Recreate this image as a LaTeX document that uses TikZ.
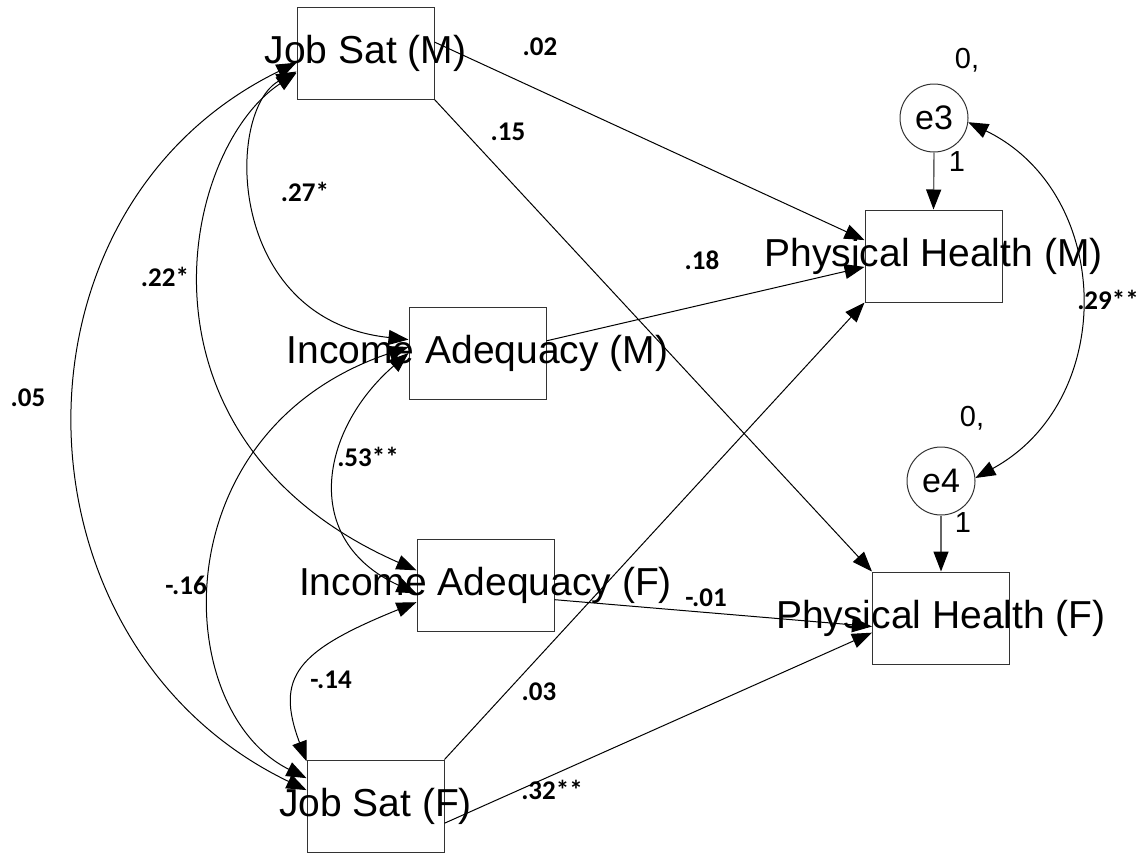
\documentclass[tikz,border=0pt]{standalone}
\usepackage{fontspec}
\setmainfont{Liberation Sans}
\newfontfamily\calib{Carlito}
\usetikzlibrary{arrows.meta}
\begin{document}
\begin{tikzpicture}[x=1pt,y=-1pt,
  box/.style={draw=black!80, line width=1pt, minimum width=137pt, minimum height=92pt, inner sep=0pt},
  err/.style={draw=black!80, line width=1pt, circle, minimum size=68pt, inner sep=0pt, font=\fontsize{34}{37}\selectfont},
  vname/.style={font=\fontsize{39}{42}\selectfont, inner sep=0pt},
  coef/.style={font=\calib\bfseries\fontsize{27}{30}\selectfont, inner sep=0pt},
  smalllab/.style={font=\fontsize{29}{32}\selectfont, inner sep=0pt},
  dirpath/.style={line width=1pt, -{Triangle[length=20pt,width=15pt]}},
  cov/.style={line width=1pt, {Triangle[length=20pt,width=15pt]}-{Triangle[length=20pt,width=15pt]}},
  errpath/.style={line width=1.4pt, draw=black!60, -{Triangle[length=20pt,width=15pt,color=black]}}
]
\useasboundingbox (0,0) rectangle (1148,852);

% boxes
\node[box] (jsm) at (365.5,53) {};
\node[box] (iam) at (477.5,353) {};
\node[box] (iaf) at (485.5,585) {};
\node[box] (jsf) at (375.5,806) {};
\node[box] (phm) at (933.5,256) {};
\node[box] (phf) at (941,618) {};
\node[err] (e3) at (934,118) {e3};
\node[err] (e4) at (941,481) {e4};

% regression paths
\draw[dirpath] (jsm.9) -- (phm.167);
\draw[dirpath] (jsm.south east) -- (phf.north west);
\draw[dirpath] (iam.10) -- (phm.189);
\draw[dirpath] (iaf.-12) -- (phf.187);
\draw[dirpath] (jsf.north east) -- (phm.south west);
\draw[dirpath] (jsf.-14) -- (phf.192);
\draw[errpath] (e3.south) -- (phm.north);
\draw[errpath] (e4.south) -- (phf.north);

% covariances
\draw[cov] (jsm.188) .. controls (-5,210) and (5,645) .. (jsf.167);
\draw[cov] (jsm.196) .. controls (180,150) and (120,440) .. (iaf.168);
\draw[cov] (jsm.195) .. controls (225,110) and (225,320) .. (iam.169);
\draw[cov] (iam.175) .. controls (160,430) and (170,710) .. (jsf.158);
\draw[cov] (iam.180) .. controls (320,430) and (300,540) .. (iaf.187);
\draw[cov] (iaf.194) .. controls (296,651) and (275,677) .. (jsf.147);
\draw[cov] (e3.-7) .. controls (1113.5,193) and (1118,400) .. (e4.5);

% variable names
\node[vname] (jsmT) at (jsm.center) {Job Sat (M)};
\node[vname] (iamT) at (iam.center) {Income Adequacy (M)};
\node[vname] (iafT) at (iaf.center) {Income Adequacy (F)};
\node[vname] (jsfT) at (jsf.center) {Job Sat (F)};
\node[vname] (phmT) at (phm.center) {Physical Health (M)};
\node[vname] (phfT) at (phf.center) {Physical Health (F)};

% error labels
\node[smalllab] (z3) at (967,60) {0,};
\node[smalllab] (z4) at (972,418) {0,};
\node[smalllab] (o3) at (957,162) {1};
\node[smalllab] (o4) at (963,523) {1};

% coefficients
\node[coef] (c02) at (540,47) {.02};
\node[coef] (c15) at (508,132) {.15};
\node[coef] (c27) at (305,192) {.27*};
\node[coef] (c22) at (165,277) {.22*};
\node[coef] (c18) at (702,260) {.18};
\node[coef] (c05) at (28,398) {.05};
\node[coef] (c53) at (368,457) {.53**};
\node[coef] (c16) at (186,585) {-.16};
\node[coef] (c01) at (706,598) {-.01};
\node[coef] (c14) at (331,680) {-.14};
\node[coef] (c03) at (539,692) {.03};
\node[coef] (c32) at (552,790) {.32**};
\node[coef] (c29) at (1108,300) {.29**};
\end{tikzpicture}
\end{document}
